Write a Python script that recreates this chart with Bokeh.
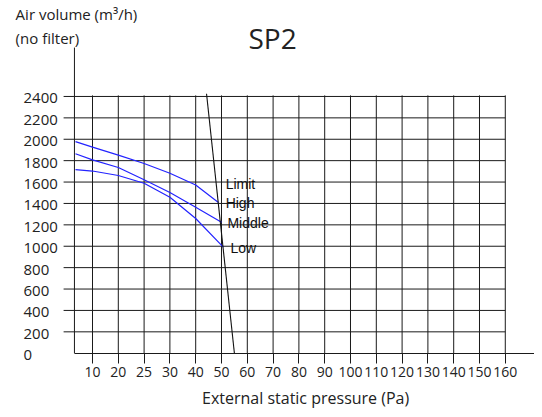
import numpy as np
from bokeh.plotting import figure
from bokeh.models import Range1d, LinearAxis, FixedTicker
from bokeh.core.properties import value
from bokeh.embed import file_html
from bokeh.resources import INLINE

# ---- data -------------------------------------------------------------
# x axis is a slot scale: slot 0 is the "10" tick, slot 16 the "160" tick
x_tick_labels = ["10", "20", "25", "30", "40", "50", "60", "70", "80",
                 "90", "100", "110", "120", "130", "140", "150", "160"]
y_tick_values = [0, 200, 400, 600, 800, 1000, 1200, 1400, 1600, 1800,
                 2000, 2200, 2400]

high_x = [-0.66, 0, 1, 2, 3, 4, 4.88]
high_y = [1978, 1927, 1852, 1773, 1682, 1572, 1409]
mid_x = [-0.66, 0, 1, 2, 3, 4, 5.0]
mid_y = [1864, 1807, 1736, 1621, 1502, 1364, 1224]
low_x = [-0.66, 0, 1, 2, 3, 4, 5.07]
low_y = [1717, 1703, 1661, 1589, 1458, 1259, 991]
limit_x = [4.42, 5.50]
limit_y = [2425, 0]

curve_labels = ["Limit", "High", "Middle", "Low"]
curve_label_x = [5.16, 5.16, 5.23, 5.35]
curve_label_y = [1586, 1408, 1221, 988]

FONT = "Open Sans"
INK = "#1a1a1a"
TXT = "#222222"
BLUE = "#2323ff"
AXIS_X = -0.7          # slot position of the vertical (y) axis line

p = figure(width=534, height=409,
           x_range=Range1d(-3.566, 17.132), y_range=Range1d(-526, 3297),
           output_backend="svg", toolbar_location=None,
           x_axis_location=None, y_axis_location=None,
           min_border_left=0, min_border_right=0, min_border_top=0,
           min_border_bottom=0)
p.xgrid.visible = False
p.ygrid.visible = False
p.outline_line_color = None
p.background_fill_color = "white"
p.border_fill_color = "white"

# bottom axis, fixed at y = 0
slots = list(range(len(x_tick_labels)))
xaxis = LinearAxis(ticker=FixedTicker(ticks=slots), bounds=(AXIS_X, 17.5),
                   fixed_location=0,
                   major_label_overrides={i: s for i, s in zip(slots, x_tick_labels)},
                   major_tick_out=10, major_tick_in=0,
                   minor_tick_line_color=None,
                   axis_line_color=INK, major_tick_line_color=INK,
                   major_label_text_font=FONT, major_label_text_font_size="14px",
                   major_label_text_color=TXT, major_label_standoff=4)
p.add_layout(xaxis, "below")

p.text(x=[8.26], y=[-423], text=["External static pressure (Pa)"],
       text_font=value(FONT), text_font_size="16px", text_color=TXT,
       text_align="center", text_baseline="middle")

# vertical axis line and grid
grid_y = [v for v in y_tick_values if v > 0]
p.segment(x0=[AXIS_X], y0=[0], x1=[AXIS_X], y1=[2857], line_color=INK, line_width=1)
p.segment(x0=slots, y0=[0] * len(slots), x1=slots, y1=[2410] * len(slots),
          line_color=INK, line_width=1)
p.segment(x0=[-1.12] * len(grid_y), y0=grid_y, x1=[16] * len(grid_y), y1=grid_y,
          line_color=INK, line_width=1)

# curves
for xs, ys in ((high_x, high_y), (mid_x, mid_y), (low_x, low_y)):
    p.line(xs, ys, line_color=BLUE, line_width=1.2)
p.line(limit_x, limit_y, line_color="#111", line_width=1.1)

p.text(x=curve_label_x, y=curve_label_y, text=curve_labels,
       text_font=value("Liberation Sans"), text_font_size="14px",
       text_baseline="middle", text_align="left", text_color="#111")

# y tick labels (left aligned as in the original)
p.text(x=[-2.674] * len(y_tick_values), y=y_tick_values,
       text=[str(v) for v in y_tick_values], y_offset=2,
       text_font=value(FONT), text_font_size="15px", text_color=TXT,
       text_align="left", text_baseline="middle")

# titles
p.text(x=[-2.98, -2.98], y=[3175, 2950], text=["Air volume (m³/h)", "(no filter)"],
       text_font=value(FONT), text_font_size="15px", text_color=TXT,
       text_align="left", text_baseline="middle")
p.text(x=[6.98], y=[2950], text=["SP2"], text_font=value(FONT),
       text_font_size="28px", text_color=TXT,
       text_align="center", text_baseline="middle")

open("out.html", "w").write(file_html(p, INLINE))
